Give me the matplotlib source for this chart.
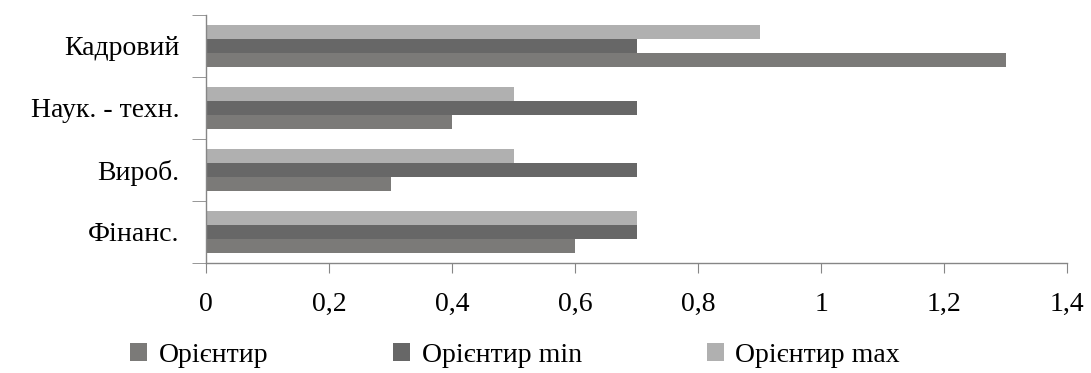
import numpy as np
import matplotlib
matplotlib.use('Agg')
import matplotlib.pyplot as plt
from matplotlib.ticker import FuncFormatter, FixedLocator

categories = ['Фінанс.', 'Вироб.', 'Наук. - техн.', 'Кадровий']
orientyr = [0.6, 0.3, 0.4, 1.3]
orientyr_min = [0.7, 0.7, 0.7, 0.7]
orientyr_max = [0.7, 0.5, 0.5, 0.9]
series_names = ['Орієнтир', 'Орієнтир min', 'Орієнтир max']
colors = ['#7b7a78', '#676767', '#b0b0b0']

plt.rcParams['font.family'] = ['Liberation Serif', 'DejaVu Serif']

fig = plt.figure(figsize=(10.91, 3.73), dpi=100)
ax = fig.add_axes([0.189, 0.295, 0.789, 0.665])

y = np.arange(len(categories))
h = 0.23
for k, vals in enumerate([orientyr, orientyr_min, orientyr_max]):
    ax.barh(y + (k - 1) * h, vals, height=h, color=colors[k], label=series_names[k])

ax.set_xlim(0, 1.4)
ax.set_ylim(-0.5, len(categories) - 0.5)
ax.set_xticks(np.arange(0, 1.41, 0.2))
ax.xaxis.set_major_formatter(FuncFormatter(lambda v, p: ('%g' % round(v, 1)).replace('.', ',')))
ax.set_yticks(y)
ax.set_yticklabels(categories)
ax.yaxis.set_minor_locator(FixedLocator(np.arange(-0.5, len(categories), 1.0)))

for s in ['top', 'right']:
    ax.spines[s].set_visible(False)
for s in ['left', 'bottom']:
    ax.spines[s].set_color('#868686')
    ax.spines[s].set_linewidth(1.0)

ax.tick_params(axis='x', direction='out', length=7, color='#868686', pad=14, labelsize=20)
ax.tick_params(axis='y', which='major', length=0, pad=19, labelsize=20)
ax.tick_params(axis='y', which='minor', direction='out', length=10, color='#868686')

fig.legend(loc='center', bbox_to_anchor=(0.472, 0.048), ncol=3, frameon=False,
           fontsize=20, handlelength=0.62, handleheight=0.62, handletextpad=0.4,
           columnspacing=4.5)

fig.savefig('out.png', dpi=100)
